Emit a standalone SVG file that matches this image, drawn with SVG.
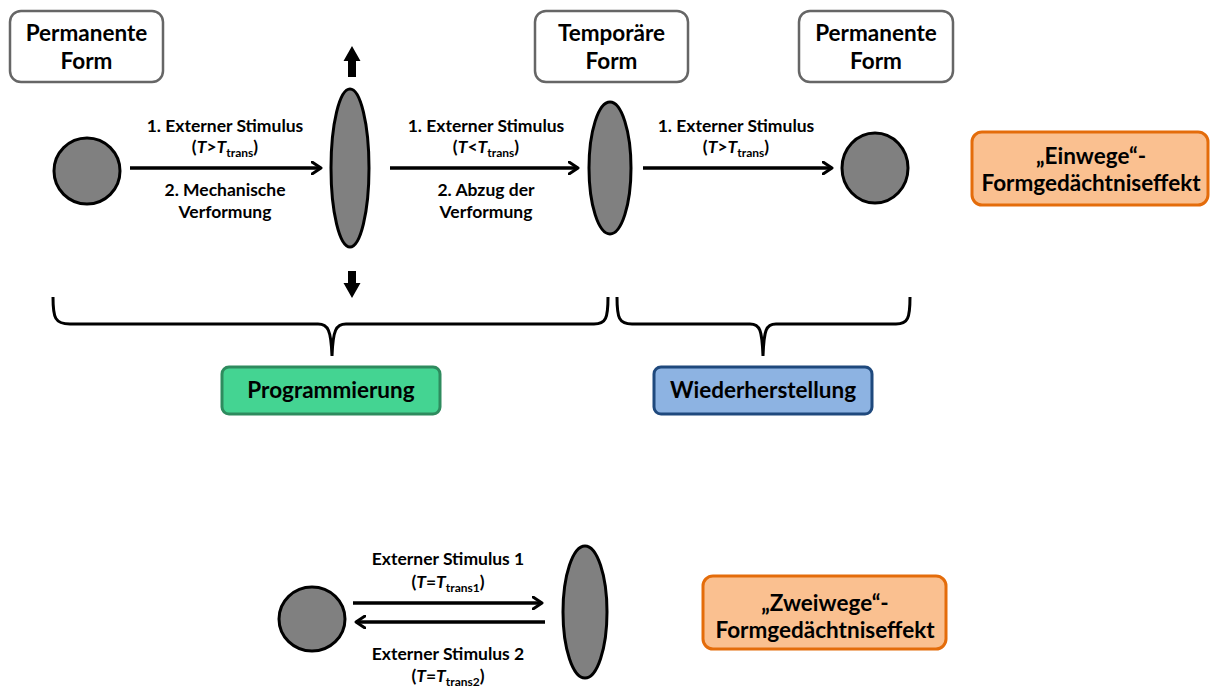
<svg xmlns="http://www.w3.org/2000/svg" width="1210" height="689" viewBox="0 0 1210 689">
<defs>
<style>
text{font-family:Lato,"Liberation Sans",sans-serif;font-weight:bold;fill:#000;text-anchor:middle}
.big{font-size:22.5px}
.lab{font-size:17.5px}
.sub{font-size:12px}
.it{font-style:italic}
.form{fill:#fff;stroke:#666;stroke-width:2.5}
.shape{fill:#808080;stroke:#000;stroke-width:3}
.conn{stroke:#000;stroke-width:3.5;fill:none}
.brace{stroke:#000;stroke-width:3;fill:none}
.orange{fill:#FAC090;stroke:#E46C0A;stroke-width:3}
</style>
<marker id="ah" viewBox="0 0 12 14" refX="10" refY="7" markerWidth="12" markerHeight="14" markerUnits="userSpaceOnUse" orient="auto">
<path d="M1,1 L10,7 L1,13" fill="none" stroke="#000" stroke-width="3" stroke-linecap="round" stroke-linejoin="round"/>
</marker>
</defs>
<rect width="1210" height="689" fill="#fff"/>

<g id="box-permanent1">
<rect class="form" x="10" y="11" width="153" height="71" rx="11"/>
<text class="big" x="86.5" y="41">Permanente</text>
<text class="big" x="86.5" y="69">Form</text>
</g>
<g id="box-temporaer">
<rect class="form" x="535" y="11" width="153" height="71" rx="11"/>
<text class="big" x="611.5" y="41">Temporäre</text>
<text class="big" x="611.5" y="69">Form</text>
</g>
<g id="box-permanent2">
<rect class="form" x="799" y="11" width="154" height="71" rx="11"/>
<text class="big" x="876" y="41">Permanente</text>
<text class="big" x="876" y="69">Form</text>
</g>

<g id="shape-circle1"><ellipse class="shape" cx="87" cy="171" rx="33" ry="33"/></g>
<g id="shape-ellipse1"><ellipse class="shape" cx="350" cy="168" rx="19" ry="79"/></g>
<g id="shape-ellipse2"><ellipse class="shape" cx="610" cy="168" rx="21" ry="66"/></g>
<g id="shape-circle2"><ellipse class="shape" cx="875" cy="168" rx="33" ry="35"/></g>

<g id="arrow-up"><polygon points="352,46 360.5,61 356,61 356,77 348,77 348,61 343.5,61" fill="#000"/></g>
<g id="arrow-down"><polygon points="352,298 360.5,283 356,283 356,271 348,271 348,283 343.5,283" fill="#000"/></g>

<g id="connectors">
<line class="conn" x1="130" y1="168" x2="321" y2="168" marker-end="url(#ah)"/>
<line class="conn" x1="390" y1="168" x2="578" y2="168" marker-end="url(#ah)"/>
<line class="conn" x1="643" y1="168" x2="832" y2="168" marker-end="url(#ah)"/>
<line class="conn" x1="353" y1="603" x2="542" y2="603" marker-end="url(#ah)"/>
<line class="conn" x1="545" y1="622" x2="356" y2="622" marker-end="url(#ah)"/>
</g>

<g id="labels-step1">
<text class="lab" x="225" y="132">1. Externer Stimulus</text>
<text class="lab" x="225" y="153">(<tspan class="it">T</tspan>&gt;<tspan class="it">T</tspan><tspan class="sub" dy="4">trans</tspan><tspan dy="-4">)</tspan></text>
<text class="lab" x="225" y="196">2. Mechanische</text>
<text class="lab" x="225" y="218">Verformung</text>
</g>
<g id="labels-step2">
<text class="lab" x="486" y="132">1. Externer Stimulus</text>
<text class="lab" x="486" y="153">(<tspan class="it">T</tspan>&lt;<tspan class="it">T</tspan><tspan class="sub" dy="4">trans</tspan><tspan dy="-4">)</tspan></text>
<text class="lab" x="486" y="196">2. Abzug der</text>
<text class="lab" x="486" y="218">Verformung</text>
</g>
<g id="labels-step3">
<text class="lab" x="736" y="132">1. Externer Stimulus</text>
<text class="lab" x="736" y="153">(<tspan class="it">T</tspan>&gt;<tspan class="it">T</tspan><tspan class="sub" dy="4">trans</tspan><tspan dy="-4">)</tspan></text>
</g>

<g id="box-einwege">
<rect class="orange" x="972" y="132" width="236" height="73" rx="10"/>
<text class="big" x="1091" y="164">„Einwege“-</text>
<text class="big" x="1091" y="191">Formgedächtniseffekt</text>
</g>

<g id="braces">
<path class="brace" d="M53,297 C53,318 55,324 70,324 L318,324 C328,324 331,330 332,356 C333,330 336,324 346,324 L594,324 C606,324 608,318 608,297"/>
<path class="brace" d="M617,297 C617,318 619,324 632,324 L750,324 C760,324 762,330 763,356 C764,330 766,324 776,324 L896,324 C908,324 910,318 910,297"/>
</g>

<g id="box-programmierung">
<rect x="222" y="367" width="218" height="47" rx="7" fill="#44D492" stroke="#2E8B5E" stroke-width="3"/>
<text class="big" x="331" y="398">Programmierung</text>
</g>
<g id="box-wiederherstellung">
<rect x="654" y="367" width="218" height="47" rx="7" fill="#8DB3E2" stroke="#1F497D" stroke-width="3"/>
<text class="big" x="763" y="398">Wiederherstellung</text>
</g>

<g id="shape-circle3"><ellipse class="shape" cx="312" cy="619" rx="33" ry="32"/></g>
<g id="shape-ellipse3"><ellipse class="shape" cx="585" cy="612" rx="22" ry="66"/></g>

<g id="labels-twoway">
<text class="lab" x="448" y="565">Externer Stimulus 1</text>
<text class="lab" x="448" y="588">(<tspan class="it">T</tspan>=<tspan class="it">T</tspan><tspan class="sub" dy="4">trans1</tspan><tspan dy="-4">)</tspan></text>
<text class="lab" x="448" y="660">Externer Stimulus 2</text>
<text class="lab" x="448" y="682">(<tspan class="it">T</tspan>=<tspan class="it">T</tspan><tspan class="sub" dy="4">trans2</tspan><tspan dy="-4">)</tspan></text>
</g>

<g id="box-zweiwege">
<rect class="orange" x="703" y="576" width="243" height="73" rx="10"/>
<text class="big" x="825" y="611">„Zweiwege“-</text>
<text class="big" x="825" y="638">Formgedächtniseffekt</text>
</g>
</svg>
